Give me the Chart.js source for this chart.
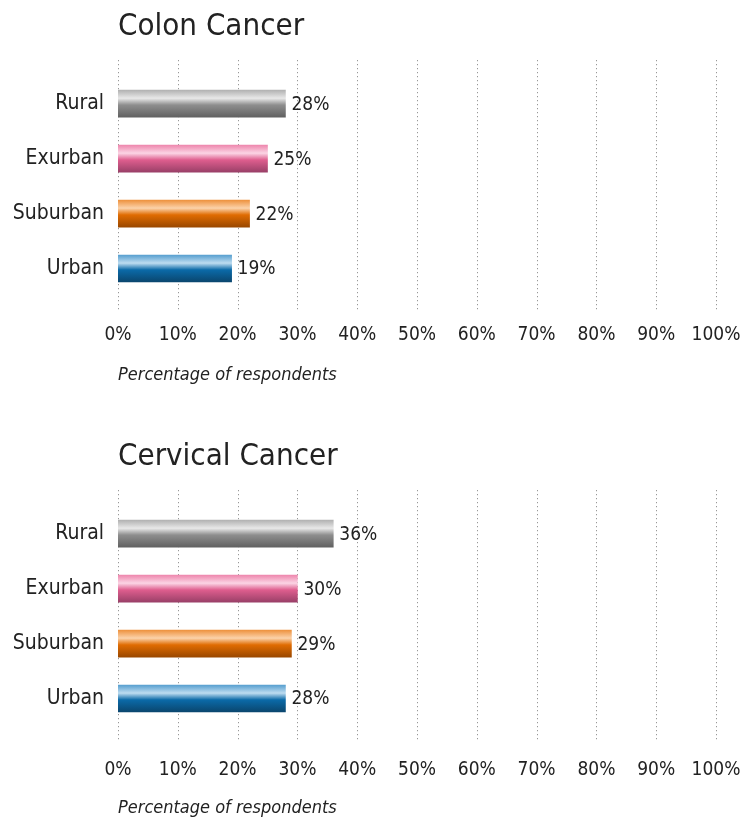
<!DOCTYPE html>
<html>
<head>
<meta charset="utf-8">
<title>Colon and Cervical Cancer</title>
<script src="https://cdn.jsdelivr.net/npm/chart.js@4.4.1/dist/chart.umd.min.js"></script>
<style>
  html, body { margin: 0; padding: 0; background: #fff; }
  .box { position: relative; width: 745px; }
  canvas { display: block; }
</style>
</head>
<body>
<div class="box"><canvas id="colon" width="745" height="430"></canvas></div>
<div class="box"><canvas id="cervical" width="745" height="390"></canvas></div>
<script>
// ── Data ──────────────────────────────────────────────────────────────
const categories = ['Rural', 'Exurban', 'Suburban', 'Urban'];
const colonValues = [28, 25, 22, 19];
const cervicalValues = [36, 30, 29, 28];
const tickValues = [0, 10, 20, 30, 40, 50, 60, 70, 80, 90, 100];

// gradient stops per category: top edge, highlight, middle, bottom
const barShades = [
  ['#b2b2b2', '#e8e8e8', '#8e8e8e', '#616161'],
  ['#ee88ae', '#fbd4e4', '#de5e8e', '#9a4068'],
  ['#ee923e', '#fbd2aa', '#e06c02', '#9a4800'],
  ['#58a0d0', '#bedcf0', '#0b6aa8', '#0a466e'],
];

const FONT = '"Liberation Sans Narrow", "DejaVu Sans Condensed", "Arial Narrow", sans-serif';
const INK = '#222222';
const BAR_H = 27;

// ── Gradient fill for each bar ────────────────────────────────────────
function barFill(ctx) {
  const chart = ctx.chart;
  const shades = barShades[ctx.dataIndex];
  if (!chart.chartArea) return shades[2];
  const y = chart.scales.y.getPixelForValue(ctx.dataIndex);
  const g = chart.ctx.createLinearGradient(0, y - BAR_H / 2, 0, y + BAR_H / 2);
  g.addColorStop(0, shades[0]);
  g.addColorStop(0.3, shades[1]);
  g.addColorStop(0.55, shades[2]);
  g.addColorStop(1, shades[3]);
  return g;
}

// ── Dotted vertical grid, running a little past the bars ──────────────
const dottedGrid = {
  id: 'dottedGrid',
  beforeDatasetsDraw(chart) {
    const { ctx, chartArea, scales } = chart;
    ctx.save();
    ctx.strokeStyle = '#808080';
    ctx.lineWidth = 1;
    ctx.setLineDash([1, 3]);
    scales.x.ticks.forEach(t => {
      const x = Math.round(scales.x.getPixelForValue(t.value)) + 0.5;
      ctx.beginPath();
      ctx.moveTo(x, chartArea.top - 16);
      ctx.lineTo(x, chartArea.bottom + 14);
      ctx.stroke();
    });
    ctx.restore();
  }
};

// ── Value labels at the bar ends ──────────────────────────────────────
const valueLabels = {
  id: 'valueLabels',
  afterDatasetsDraw(chart) {
    const { ctx } = chart;
    const meta = chart.getDatasetMeta(0);
    const data = chart.data.datasets[0].data;
    ctx.save();
    ctx.font = '19px ' + FONT;
    ctx.fillStyle = INK;
    ctx.textAlign = 'left';
    ctx.textBaseline = 'middle';
    meta.data.forEach((bar, i) => {
      ctx.fillText(data[i] + '%', bar.x + 6, bar.y + 1);
    });
    ctx.restore();
  }
};

function makeChart(id, title, values, tickPad, axisTitlePad) {
  const canvas = document.getElementById(id);
  const axisHeight = canvas.height - 296;
  return new Chart(canvas, {
    type: 'bar',
    data: {
      labels: categories,
      datasets: [{
        data: values,
        backgroundColor: barFill,
        borderWidth: 0,
        barThickness: BAR_H,
      }]
    },
    options: {
      indexAxis: 'y',
      responsive: false,
      animation: false,
      layout: { padding: { left: 0, right: 29, top: 0, bottom: 0 } },
      plugins: {
        legend: { display: false },
        tooltip: { enabled: false },
        title: {
          display: true,
          text: title,
          align: 'start',
          fullSize: false,
          color: INK,
          font: { family: FONT, size: 31, weight: 'normal', lineHeight: 1.2 },
          padding: { top: 8, bottom: 31 },
        },
      },
      scales: {
        x: {
          min: 0,
          max: 100,
          afterBuildTicks: s => { s.ticks = tickValues.map(v => ({ value: v })); },
          afterFit: s => {
            s.height = axisHeight;
            s.paddingLeft = 0;
            s.paddingRight = 0;
          },
          grid: { display: false, drawTicks: false },
          border: { display: false },
          ticks: {
            color: INK,
            padding: tickPad,
            autoSkip: false,
            maxRotation: 0,
            font: { family: FONT, size: 19 },
            callback: v => v + '%',
          },
          title: {
            display: true,
            text: 'Percentage of respondents',
            align: 'start',
            color: INK,
            font: { family: FONT, size: 18, style: 'italic' },
            padding: { top: 0, bottom: axisTitlePad },
          },
        },
        y: {
          afterFit: s => { s.width = 118; },
          grid: { display: false, drawTicks: false },
          border: { display: false },
          ticks: {
            color: INK,
            padding: 14,
            font: { family: FONT, size: 21 },
          },
        },
      },
    },
    plugins: [dottedGrid, valueLabels],
  });
}

makeChart('colon', 'Colon Cancer', colonValues, 28, 44);
makeChart('cervical', 'Cervical Cancer', cervicalValues, 33, 1);
</script>
</body>
</html>
